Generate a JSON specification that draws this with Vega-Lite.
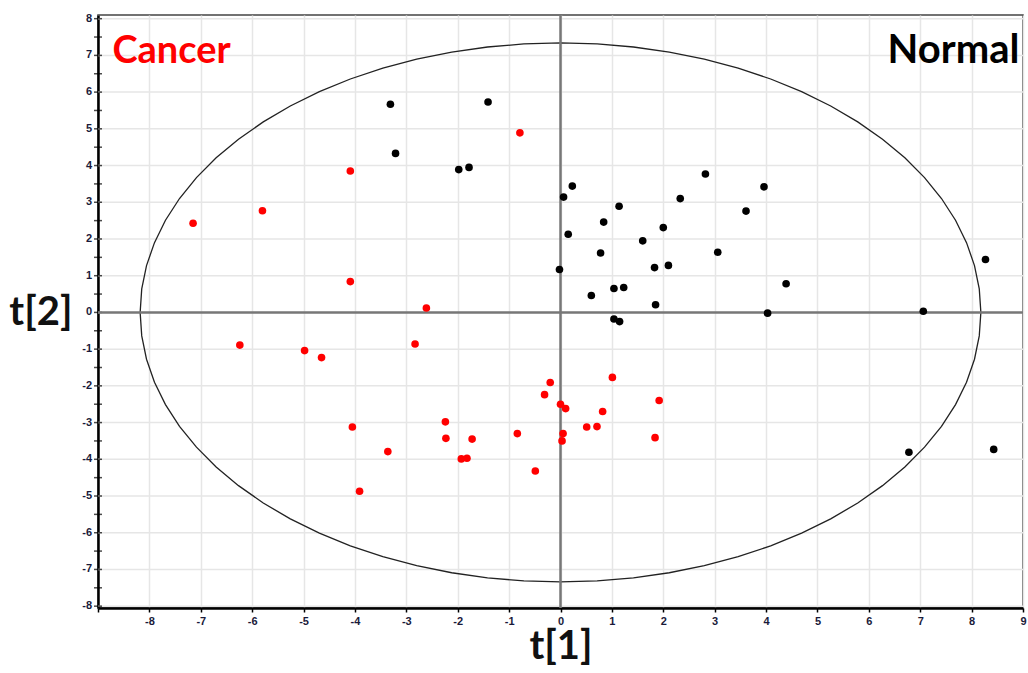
{
  "$schema": "https://vega.github.io/schema/vega-lite/v6.json",
  "autosize": "none",
  "width": 925,
  "height": 593,
  "padding": {"left": 98, "top": 15, "right": 5, "bottom": 65},
  "background": "white",
  "config": {
    "view": {"stroke": "#444444", "strokeWidth": 1.5},
    "axis": {
      "gridColor": "#e6e6e6",
      "gridWidth": 1.5,
      "domainColor": "#000000",
      "domainWidth": 2.5,
      "tickColor": "#000000",
      "tickWidth": 1.5,
      "tickSize": 4,
      "labelFont": "Liberation Sans",
      "labelFontWeight": "bold",
      "labelFontSize": 11,
      "labelColor": "#1a1a3a",
      "labelFlush": false,
      "labelOverlap": false,
      "titleFont": "Lato",
      "titleFontSize": 40,
      "titleFontWeight": "bold",
      "titleColor": "#111111"
    }
  },
  "datasets": {
    "ylab": [
      {"t2":-8,"lab":"-8"},{"t2":-7,"lab":"-7"},{"t2":-6,"lab":"-6"},{"t2":-5,"lab":"-5"},{"t2":-4,"lab":"-4"},{"t2":-3,"lab":"-3"},{"t2":-2,"lab":"-2"},{"t2":-1,"lab":"-1"},{"t2":0,"lab":"0"},{"t2":1,"lab":"1"},{"t2":2,"lab":"2"},{"t2":3,"lab":"3"},{"t2":4,"lab":"4"},{"t2":5,"lab":"5"},{"t2":6,"lab":"6"},{"t2":7,"lab":"7"},{"t2":8,"lab":"8"}
    ],
    "ytick": [
      {"t2":-8},{"t2":-7.5},{"t2":-7},{"t2":-6.5},{"t2":-6},{"t2":-5.5},{"t2":-5},{"t2":-4.5},{"t2":-4},{"t2":-3.5},{"t2":-3},{"t2":-2.5},{"t2":-2},{"t2":-1.5},{"t2":-1},{"t2":-0.5},{"t2":0},{"t2":0.5},{"t2":1},{"t2":1.5},{"t2":2},{"t2":2.5},{"t2":3},{"t2":3.5},{"t2":4},{"t2":4.5},{"t2":5},{"t2":5.5},{"t2":6},{"t2":6.5},{"t2":7},{"t2":7.5},{"t2":8}
    ],
    "ellipse": [
      {"i":0,"t1":8.18,"t2":0},{"i":5,"t1":8.149,"t2":0.64},{"i":10,"t1":8.056,"t2":1.275},{"i":15,"t1":7.901,"t2":1.9},{"i":20,"t1":7.687,"t2":2.51},{"i":25,"t1":7.414,"t2":3.102},{"i":30,"t1":7.084,"t2":3.67},{"i":35,"t1":6.701,"t2":4.21},{"i":40,"t1":6.266,"t2":4.718},{"i":45,"t1":5.784,"t2":5.19},{"i":50,"t1":5.258,"t2":5.623},{"i":55,"t1":4.692,"t2":6.013},{"i":60,"t1":4.09,"t2":6.357},{"i":65,"t1":3.457,"t2":6.652},{"i":70,"t1":2.798,"t2":6.897},{"i":75,"t1":2.117,"t2":7.09},{"i":80,"t1":1.42,"t2":7.228},{"i":85,"t1":0.713,"t2":7.312},{"i":90,"t1":0,"t2":7.34},
      {"i":95,"t1":-0.713,"t2":7.312},{"i":100,"t1":-1.42,"t2":7.228},{"i":105,"t1":-2.117,"t2":7.09},{"i":110,"t1":-2.798,"t2":6.897},{"i":115,"t1":-3.457,"t2":6.652},{"i":120,"t1":-4.09,"t2":6.357},{"i":125,"t1":-4.692,"t2":6.013},{"i":130,"t1":-5.258,"t2":5.623},{"i":135,"t1":-5.784,"t2":5.19},{"i":140,"t1":-6.266,"t2":4.718},{"i":145,"t1":-6.701,"t2":4.21},{"i":150,"t1":-7.084,"t2":3.67},{"i":155,"t1":-7.414,"t2":3.102},{"i":160,"t1":-7.687,"t2":2.51},{"i":165,"t1":-7.901,"t2":1.9},{"i":170,"t1":-8.056,"t2":1.275},{"i":175,"t1":-8.149,"t2":0.64},{"i":180,"t1":-8.18,"t2":0},
      {"i":185,"t1":-8.149,"t2":-0.64},{"i":190,"t1":-8.056,"t2":-1.275},{"i":195,"t1":-7.901,"t2":-1.9},{"i":200,"t1":-7.687,"t2":-2.51},{"i":205,"t1":-7.414,"t2":-3.102},{"i":210,"t1":-7.084,"t2":-3.67},{"i":215,"t1":-6.701,"t2":-4.21},{"i":220,"t1":-6.266,"t2":-4.718},{"i":225,"t1":-5.784,"t2":-5.19},{"i":230,"t1":-5.258,"t2":-5.623},{"i":235,"t1":-4.692,"t2":-6.013},{"i":240,"t1":-4.09,"t2":-6.357},{"i":245,"t1":-3.457,"t2":-6.652},{"i":250,"t1":-2.798,"t2":-6.897},{"i":255,"t1":-2.117,"t2":-7.09},{"i":260,"t1":-1.42,"t2":-7.228},{"i":265,"t1":-0.713,"t2":-7.312},{"i":270,"t1":0,"t2":-7.34},
      {"i":275,"t1":0.713,"t2":-7.312},{"i":280,"t1":1.42,"t2":-7.228},{"i":285,"t1":2.117,"t2":-7.09},{"i":290,"t1":2.798,"t2":-6.897},{"i":295,"t1":3.457,"t2":-6.652},{"i":300,"t1":4.09,"t2":-6.357},{"i":305,"t1":4.692,"t2":-6.013},{"i":310,"t1":5.258,"t2":-5.623},{"i":315,"t1":5.784,"t2":-5.19},{"i":320,"t1":6.266,"t2":-4.718},{"i":325,"t1":6.701,"t2":-4.21},{"i":330,"t1":7.084,"t2":-3.67},{"i":335,"t1":7.414,"t2":-3.102},{"i":340,"t1":7.687,"t2":-2.51},{"i":345,"t1":7.901,"t2":-1.9},{"i":350,"t1":8.056,"t2":-1.275},{"i":355,"t1":8.149,"t2":-0.64},{"i":360,"t1":8.18,"t2":0}
    ],
    "points": [
      {"t1":-3.31,"t2":5.67,"group":"Normal"},
      {"t1":-1.41,"t2":5.73,"group":"Normal"},
      {"t1":-3.21,"t2":4.33,"group":"Normal"},
      {"t1":-1.98,"t2":3.89,"group":"Normal"},
      {"t1":-1.78,"t2":3.95,"group":"Normal"},
      {"t1":-0.02,"t2":1.17,"group":"Normal"},
      {"t1":0.06,"t2":3.14,"group":"Normal"},
      {"t1":0.23,"t2":3.44,"group":"Normal"},
      {"t1":0.15,"t2":2.13,"group":"Normal"},
      {"t1":0.6,"t2":0.46,"group":"Normal"},
      {"t1":0.78,"t2":1.62,"group":"Normal"},
      {"t1":0.84,"t2":2.46,"group":"Normal"},
      {"t1":1.04,"t2":0.65,"group":"Normal"},
      {"t1":1.23,"t2":0.68,"group":"Normal"},
      {"t1":1.14,"t2":2.89,"group":"Normal"},
      {"t1":1.04,"t2":-0.18,"group":"Normal"},
      {"t1":1.15,"t2":-0.25,"group":"Normal"},
      {"t1":1.6,"t2":1.95,"group":"Normal"},
      {"t1":1.83,"t2":1.22,"group":"Normal"},
      {"t1":2.1,"t2":1.28,"group":"Normal"},
      {"t1":1.85,"t2":0.21,"group":"Normal"},
      {"t1":2.0,"t2":2.31,"group":"Normal"},
      {"t1":2.33,"t2":3.1,"group":"Normal"},
      {"t1":2.82,"t2":3.77,"group":"Normal"},
      {"t1":3.06,"t2":1.64,"group":"Normal"},
      {"t1":3.61,"t2":2.76,"group":"Normal"},
      {"t1":3.96,"t2":3.42,"group":"Normal"},
      {"t1":4.03,"t2":-0.02,"group":"Normal"},
      {"t1":4.39,"t2":0.78,"group":"Normal"},
      {"t1":8.27,"t2":1.44,"group":"Normal"},
      {"t1":7.06,"t2":0.03,"group":"Normal"},
      {"t1":6.78,"t2":-3.81,"group":"Normal"},
      {"t1":8.43,"t2":-3.73,"group":"Normal"},
      {"t1":-7.15,"t2":2.43,"group":"Cancer"},
      {"t1":-5.8,"t2":2.77,"group":"Cancer"},
      {"t1":-4.09,"t2":3.85,"group":"Cancer"},
      {"t1":-4.09,"t2":0.84,"group":"Cancer"},
      {"t1":-2.61,"t2":0.12,"group":"Cancer"},
      {"t1":-6.24,"t2":-0.89,"group":"Cancer"},
      {"t1":-4.98,"t2":-1.04,"group":"Cancer"},
      {"t1":-4.65,"t2":-1.23,"group":"Cancer"},
      {"t1":-2.83,"t2":-0.86,"group":"Cancer"},
      {"t1":-0.79,"t2":4.89,"group":"Cancer"},
      {"t1":-4.05,"t2":-3.12,"group":"Cancer"},
      {"t1":-3.36,"t2":-3.79,"group":"Cancer"},
      {"t1":-3.91,"t2":-4.87,"group":"Cancer"},
      {"t1":-2.24,"t2":-2.98,"group":"Cancer"},
      {"t1":-2.23,"t2":-3.43,"group":"Cancer"},
      {"t1":-1.72,"t2":-3.45,"group":"Cancer"},
      {"t1":-1.93,"t2":-3.99,"group":"Cancer"},
      {"t1":-1.82,"t2":-3.97,"group":"Cancer"},
      {"t1":-0.84,"t2":-3.3,"group":"Cancer"},
      {"t1":-0.49,"t2":-4.32,"group":"Cancer"},
      {"t1":-0.2,"t2":-1.91,"group":"Cancer"},
      {"t1":-0.31,"t2":-2.24,"group":"Cancer"},
      {"t1":0.0,"t2":-2.5,"group":"Cancer"},
      {"t1":0.1,"t2":-2.62,"group":"Cancer"},
      {"t1":0.05,"t2":-3.3,"group":"Cancer"},
      {"t1":0.03,"t2":-3.5,"group":"Cancer"},
      {"t1":0.51,"t2":-3.12,"group":"Cancer"},
      {"t1":0.71,"t2":-3.11,"group":"Cancer"},
      {"t1":0.82,"t2":-2.7,"group":"Cancer"},
      {"t1":1.01,"t2":-1.77,"group":"Cancer"},
      {"t1":1.92,"t2":-2.4,"group":"Cancer"},
      {"t1":1.84,"t2":-3.41,"group":"Cancer"}
    ]
  },
  "layer": [
    {
      "data": {"name": "ylab"},
      "mark": {"type": "rule", "color": "#e6e6e6", "strokeWidth": 1.5},
      "encoding": {
        "y": {
          "field": "t2", "type": "quantitative",
          "scale": {"domain": [-8.05, 8.1], "nice": false, "zero": false},
          "axis": {
            "title": "t[2]",
            "titleAngle": 0,
            "titleAlign": "right",
            "titleBaseline": "middle",
            "titleX": -26,
            "titleY": 297,
            "labels": false,
            "ticks": false,
            "grid": false
          }
        }
      }
    },
    {
      "data": {"name": "ellipse"},
      "mark": {"type": "line", "color": "#222222", "strokeWidth": 1.3},
      "encoding": {
        "x": {
          "field": "t1", "type": "quantitative",
          "scale": {"domain": [-9, 9], "nice": false, "zero": false},
          "axis": {
            "title": "t[1]",
            "titlePadding": 0,
            "values": [-9,-8.5,-8,-7.5,-7,-6.5,-6,-5.5,-5,-4.5,-4,-3.5,-3,-2.5,-2,-1.5,-1,-0.5,0,0.5,1,1.5,2,2.5,3,3.5,4,4.5,5,5.5,6,6.5,7,7.5,8,8.5,9],
            "labelExpr": "(datum.value % 1 === 0 && datum.value > -9) ? ('' + datum.value) : ''",
            "labelPadding": 3,
            "labelOverlap": false,
            "grid": true
          }
        },
        "y": {"field": "t2", "type": "quantitative"},
        "order": {"field": "i", "type": "quantitative"}
      }
    },
    {
      "data": {"name": "ytick"},
      "mark": {"type": "tick", "orient": "horizontal", "color": "#000000", "size": 8, "thickness": 1.5},
      "encoding": {
        "x": {"datum": -9, "type": "quantitative"},
        "y": {"field": "t2", "type": "quantitative"}
      }
    },
    {
      "data": {"name": "ylab"},
      "mark": {"type": "text", "align": "right", "baseline": "middle", "dx": -6, "font": "Liberation Sans", "fontWeight": "bold", "fontSize": 11, "color": "#1a1a3a"},
      "encoding": {
        "x": {"datum": -9, "type": "quantitative"},
        "y": {"field": "t2", "type": "quantitative"},
        "text": {"field": "lab"}
      }
    },
    {
      "data": {"values": [{"t1": 0}]},
      "mark": {"type": "rule", "color": "#777777", "strokeWidth": 2.5},
      "encoding": {"x": {"field": "t1", "type": "quantitative"}}
    },
    {
      "data": {"values": [{"t2": 0}]},
      "mark": {"type": "rule", "color": "#777777", "strokeWidth": 2.5},
      "encoding": {"y": {"field": "t2", "type": "quantitative"}}
    },
    {
      "data": {"name": "points"},
      "mark": {"type": "point", "shape": "circle", "filled": true, "opacity": 1, "size": 58},
      "encoding": {
        "x": {"field": "t1", "type": "quantitative"},
        "y": {"field": "t2", "type": "quantitative"},
        "color": {
          "field": "group", "type": "nominal",
          "scale": {"domain": ["Cancer", "Normal"], "range": ["#ff0000", "#000000"]},
          "legend": null
        }
      }
    },
    {
      "data": {"values": [{"t1": -8.72, "t2": 6.78, "label": "Cancer"}]},
      "mark": {"type": "text", "align": "left", "baseline": "alphabetic", "font": "Lato", "fontSize": 38, "fontWeight": "bold", "color": "#ff0000"},
      "encoding": {
        "x": {"field": "t1", "type": "quantitative"},
        "y": {"field": "t2", "type": "quantitative"},
        "text": {"field": "label"}
      }
    },
    {
      "data": {"values": [{"t1": 8.93, "t2": 6.78, "label": "Normal"}]},
      "mark": {"type": "text", "align": "right", "baseline": "alphabetic", "font": "Lato", "fontSize": 40, "fontWeight": "bold", "color": "#000000"},
      "encoding": {
        "x": {"field": "t1", "type": "quantitative"},
        "y": {"field": "t2", "type": "quantitative"},
        "text": {"field": "label"}
      }
    }
  ]
}
